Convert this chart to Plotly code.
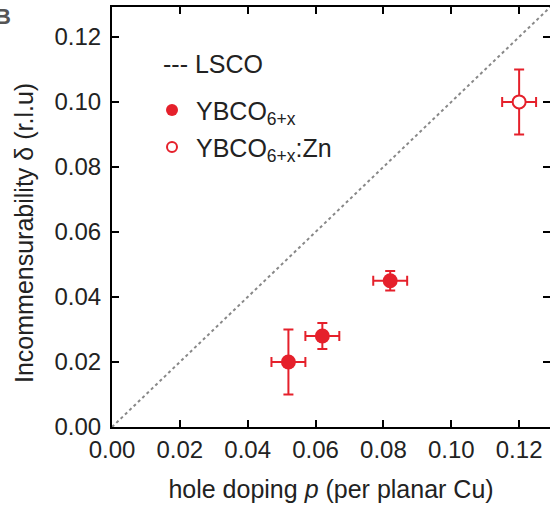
import plotly.graph_objects as go

# Data
lsco_p = [0.0, 0.13]
lsco_delta = [0.0, 0.13]

ybco_p = [0.052, 0.062, 0.082]
ybco_delta = [0.020, 0.028, 0.045]
ybco_p_err = [0.005, 0.005, 0.005]
ybco_delta_err = [0.010, 0.004, 0.003]

zn_p = [0.120]
zn_delta = [0.100]
zn_p_err = [0.005]
zn_delta_err = [0.010]

x_ticks = [0.00, 0.02, 0.04, 0.06, 0.08, 0.10, 0.12]
y_ticks = [0.00, 0.02, 0.04, 0.06, 0.08, 0.10, 0.12]

RED = "#e5202b"
FONT = "Liberation Sans, Arial, sans-serif"
TXT = "#222222"

fig = go.Figure()

fig.add_trace(go.Scatter(
    x=lsco_p, y=lsco_delta, mode="lines",
    line=dict(color="#888888", width=2, dash="dot"),
    showlegend=False, hoverinfo="skip", cliponaxis=True))

fig.add_trace(go.Scatter(
    x=ybco_p, y=ybco_delta, mode="markers",
    marker=dict(symbol="circle", size=15, color=RED, line=dict(width=0)),
    error_x=dict(type="data", array=ybco_p_err, color=RED, thickness=2, width=5),
    error_y=dict(type="data", array=ybco_delta_err, color=RED, thickness=2, width=5),
    showlegend=False))

fig.add_trace(go.Scatter(
    x=zn_p, y=zn_delta, mode="markers",
    marker=dict(symbol="circle", size=13, color="white", line=dict(width=2, color=RED)),
    error_x=dict(type="data", array=zn_p_err, color=RED, thickness=2, width=5),
    error_y=dict(type="data", array=zn_delta_err, color=RED, thickness=2, width=5),
    showlegend=False))

L, R, T, B = 112, 0, 7, 81
W, H = 550, 508
pw, ph = W - L - R, H - T - B


def px(xp):
    return (xp - L) / pw


def py(yp):
    return (H - B - yp) / ph


axis_common = dict(
    showline=True, linecolor="black", linewidth=2, mirror="ticks",
    ticks="inside", ticklen=7, tickwidth=2, tickcolor="black",
    showgrid=False, zeroline=False,
    tickfont=dict(family=FONT, size=24, color=TXT),
    tickformat=".2f",
)

fig.update_xaxes(range=[0, 0.1291], tickvals=x_ticks,
                 title=dict(text="hole doping <i>p</i> (per planar Cu)",
                            font=dict(family=FONT, size=25, color=TXT), standoff=19),
                 **axis_common)
fig.update_yaxes(range=[0, 0.1292], tickvals=y_ticks, ticklabelstandoff=4,
                 **axis_common)

# Legend built from annotations and shapes
ann = []
ann.append(dict(xref="paper", yref="paper", x=px(24), y=py(233), xanchor="center", yanchor="middle",
                text="Incommensurability δ (r.l.u)", textangle=-90, showarrow=False,
                font=dict(family=FONT, size=25, color=TXT)))
ann.append(dict(xref="paper", yref="paper", x=px(161), y=py(64), xanchor="left", yanchor="middle",
                text="--- LSCO", showarrow=False, font=dict(family=FONT, size=25, color=TXT)))
ann.append(dict(xref="paper", yref="paper", x=px(194), y=py(113), xanchor="left", yanchor="middle",
                text="YBCO<sub>6+x</sub>", showarrow=False, font=dict(family=FONT, size=25, color=TXT)))
ann.append(dict(xref="paper", yref="paper", x=px(194), y=py(150), xanchor="left", yanchor="middle",
                text="YBCO<sub>6+x</sub>:Zn", showarrow=False, font=dict(family=FONT, size=25, color=TXT)))
# panel letter, partly cut off
ann.append(dict(xref="paper", yref="paper", x=px(13), y=py(16), xanchor="right", yanchor="middle",
                text="<b>B</b>", showarrow=False, font=dict(family=FONT, size=22, color="#555555")))

shapes = [
    dict(type="circle", xref="paper", yref="paper",
         x0=px(166), x1=px(178), y0=py(104), y1=py(116),
         fillcolor=RED, line=dict(width=0)),
    dict(type="circle", xref="paper", yref="paper",
         x0=px(167), x1=px(177), y0=py(142), y1=py(152),
         fillcolor="white", line=dict(width=2, color=RED)),
]

fig.update_layout(
    width=W, height=H,
    margin=dict(l=L, r=R, t=T, b=B, autoexpand=False),
    paper_bgcolor="white", plot_bgcolor="white",
    annotations=ann, shapes=shapes, showlegend=False,
)

fig.write_html("out.html", config={"displayModeBar": False},
               post_script="document.body.style.margin='0';")
